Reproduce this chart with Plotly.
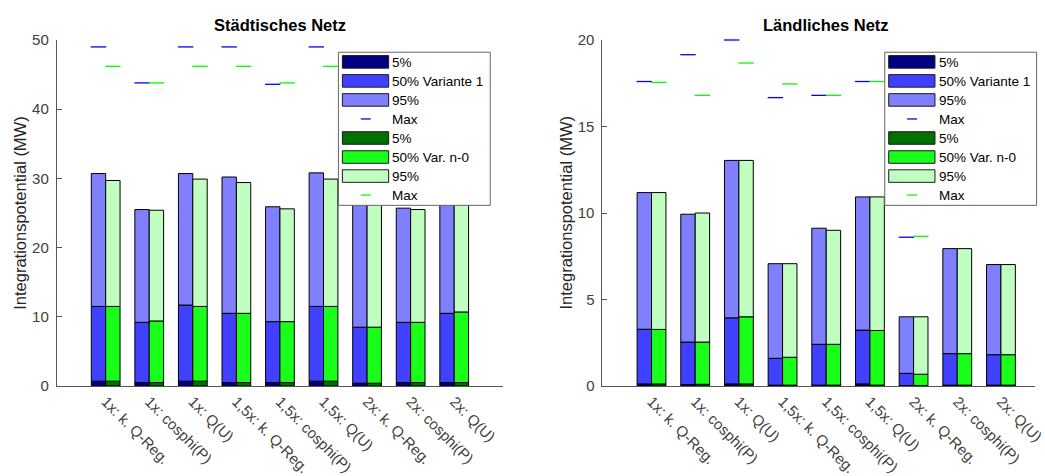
import plotly.graph_objects as go
import numpy as np

# ---------------- data ----------------
categories = ["1x: k. Q-Reg.", "1x: cosphi(P)", "1x: Q(U)", "1,5x: k. Q-Reg.",
              "1,5x: cosphi(P)", "1,5x: Q(U)", "2x: k. Q-Reg.", "2x: cosphi(P)", "2x: Q(U)"]

# Städtisches Netz
st_blue_p5 = [0.7, 0.5, 0.7, 0.5, 0.5, 0.7, 0.4, 0.5, 0.5]
st_blue_p50 = [11.5, 9.2, 11.7, 10.5, 9.3, 11.5, 8.5, 9.2, 10.5]
st_blue_p95 = [30.7, 25.5, 30.7, 30.2, 25.9, 30.8, 29.0, 25.7, 30.5]
st_blue_max = [49.0, 43.8, 49.0, 49.0, 43.6, 49.0, 46.0, 43.5, 46.0]
st_green_p5 = [0.7, 0.5, 0.7, 0.5, 0.5, 0.7, 0.4, 0.5, 0.5]
st_green_p50 = [11.5, 9.4, 11.5, 10.5, 9.3, 11.5, 8.5, 9.2, 10.7]
st_green_p95 = [29.7, 25.4, 29.9, 29.4, 25.6, 29.9, 28.5, 25.5, 29.5]
st_green_max = [46.2, 43.8, 46.2, 46.2, 43.8, 46.2, 46.0, 43.5, 46.0]

# Ländliches Netz
la_blue_p5 = [0.12, 0.08, 0.12, 0.05, 0.05, 0.12, 0.03, 0.05, 0.05]
la_blue_p50 = [3.28, 2.54, 3.94, 1.6, 2.41, 3.23, 0.73, 1.87, 1.81]
la_blue_p95 = [11.18, 9.93, 13.04, 7.07, 9.12, 10.93, 4.0, 7.94, 7.02]
la_blue_max = [17.6, 19.15, 20.0, 16.67, 16.8, 17.6, 8.6, 17.5, 17.5]
la_green_p5 = [0.12, 0.1, 0.12, 0.05, 0.05, 0.05, 0.03, 0.05, 0.05]
la_green_p50 = [3.27, 2.54, 4.0, 1.66, 2.41, 3.21, 0.68, 1.87, 1.81]
la_green_p95 = [11.18, 10.0, 13.04, 7.07, 9.0, 10.93, 4.0, 7.94, 7.02]
la_green_max = [17.55, 16.8, 18.67, 17.46, 16.8, 17.6, 8.65, 17.5, 17.5]

legend_labels = ["5%", "50% Variante 1", "95%", "Max", "5%", "50% Var. n-0", "95%", "Max"]

# ---------------- style ----------------
W, H = 1045, 476
ML, MR, MT, MB = 0, 0, 40, 88
PLOT_H = H - MT - MB
FONT = "Liberation Sans, Arial, sans-serif"
C_B5, C_B50, C_B95, C_BMAX = "#000080", "#4040ff", "#8080ff", "#0000ff"
C_G5, C_G50, C_G95, C_GMAX = "#007000", "#19ff19", "#c0ffc0", "#00ff00"
BW = 0.33

pos = np.arange(1, len(categories) + 1)

fig = go.Figure()


def add_group(xa, ya, p5, p50, p95, mx, cols, offset, mxcol):
    p5 = np.array(p5); p50 = np.array(p50); p95 = np.array(p95)
    segs = [(p5, np.zeros_like(p5), cols[0]), (p50 - p5, p5, cols[1]), (p95 - p50, p50, cols[2])]
    for y, base, c in segs:
        fig.add_trace(go.Bar(x=pos, y=y, base=base, width=BW, offset=offset,
                             marker=dict(color=c, line=dict(color="#000000", width=1)),
                             xaxis=xa, yaxis=ya, showlegend=False, hoverinfo="skip"))
    fig.add_trace(go.Scatter(x=pos + offset + BW / 2, y=mx, mode="markers",
                             marker=dict(symbol="line-ew", size=11,
                                         line=dict(color=mxcol, width=1.3)),
                             cliponaxis=False, xaxis=xa, yaxis=ya, showlegend=False,
                             hoverinfo="skip"))


add_group("x", "y", st_blue_p5, st_blue_p50, st_blue_p95, st_blue_max, (C_B5, C_B50, C_B95), -BW, C_BMAX)
add_group("x", "y", st_green_p5, st_green_p50, st_green_p95, st_green_max, (C_G5, C_G50, C_G95), 0.0, C_GMAX)
add_group("x2", "y2", la_blue_p5, la_blue_p50, la_blue_p95, la_blue_max, (C_B5, C_B50, C_B95), -BW, C_BMAX)
add_group("x2", "y2", la_green_p5, la_green_p50, la_green_p95, la_green_max, (C_G5, C_G50, C_G95), 0.0, C_GMAX)

axis_col = "#555555"
tick_font = dict(family=FONT, size=15, color="#404040")

xcommon = dict(tickvals=pos, ticktext=categories, tickangle=45, showline=True,
               linecolor=axis_col, linewidth=1, ticks="", showgrid=False, zeroline=False,
               tickfont=tick_font, fixedrange=True, ticklabeloverflow="allow")
ycommon = dict(showline=True, linecolor=axis_col, linewidth=1, ticks="inside", ticklen=5,
               tickcolor=axis_col, showgrid=False, zeroline=False, tickfont=tick_font,
               ticklabelstandoff=4)

fig.update_layout(
    width=W, height=H, margin=dict(l=ML, r=MR, t=MT, b=MB),
    paper_bgcolor="white", plot_bgcolor="white", barmode="overlay", showlegend=False,
    xaxis=dict(domain=[57.3 / W, 508 / W], range=[-0.123, 10.123], **xcommon),
    xaxis2=dict(domain=[608.3 / W, 1.0], range=[-0.123, 9.78], anchor="y2", **xcommon),
    yaxis=dict(domain=[0, 1], range=[0, 50], tickvals=[0, 10, 20, 30, 40, 50], anchor="x", **ycommon),
    yaxis2=dict(domain=[0, 1], range=[0, 20], tickvals=[0, 5, 10, 15, 20], anchor="x2", **ycommon),
    font=dict(family=FONT),
)


def px2paper(px, py):
    return px / W, (H - MB - py) / PLOT_H


annotations = []
shapes = []

# titles and y-axis labels
for cx, title, ylx in [(282.6, "Städtisches Netz", 20), (834, "Ländliches Netz", 571)]:
    x, y = px2paper(cx, 25)
    annotations.append(dict(x=x, y=y, xref="paper", yref="paper", text="<b>%s</b>" % title,
                            showarrow=False, xanchor="center", yanchor="middle",
                            font=dict(family=FONT, size=16.5, color="#000000")))
    x, y = px2paper(ylx, 214)
    annotations.append(dict(x=x, y=y, xref="paper", yref="paper", text="Integrationspotential (MW)",
                            textangle=-90, showarrow=False, xanchor="center", yanchor="middle",
                            font=dict(family=FONT, size=16.5, color="#262626")))

# custom legends (MATLAB style)
legend_fill = [C_B5, C_B50, C_B95, None, C_G5, C_G50, C_G95, None]
legend_line = [None, None, None, C_BMAX, None, None, None, C_GMAX]
for bx in [341.7, 893.3]:
    x0, y0 = px2paper(bx, 52.3)
    x1, y1 = px2paper(bx + 153.3, 206.3)
    shapes.append(dict(type="rect", xref="paper", yref="paper", x0=x0, y0=y0, x1=x1, y1=y1,
                       fillcolor="white", line=dict(color="#666666", width=1), layer="above"))
    for i, lab in enumerate(legend_labels):
        cy = 62.0 + 19.14 * i
        if legend_fill[i] is not None:
            a0, b0 = px2paper(bx + 4, cy - 6.3)
            a1, b1 = px2paper(bx + 50.7, cy + 6.3)
            shapes.append(dict(type="rect", xref="paper", yref="paper", x0=a0, y0=b0, x1=a1, y1=b1,
                               fillcolor=legend_fill[i], line=dict(color="#1a1a1a", width=1),
                               layer="above"))
        else:
            a0, b0 = px2paper(bx + 22.6, cy)
            a1, _ = px2paper(bx + 32.6, cy)
            shapes.append(dict(type="line", xref="paper", yref="paper", x0=a0, y0=b0, x1=a1, y1=b0,
                               line=dict(color=legend_line[i], width=1.3), layer="above"))
        tx, ty = px2paper(bx + 52.3, cy + 0.5)
        annotations.append(dict(x=tx, y=ty, xref="paper", yref="paper", text=lab, showarrow=False,
                                xanchor="left", yanchor="middle",
                                font=dict(family=FONT, size=13.5, color="#000000")))

fig.update_layout(annotations=annotations, shapes=shapes)

fig.write_html("out.html")
